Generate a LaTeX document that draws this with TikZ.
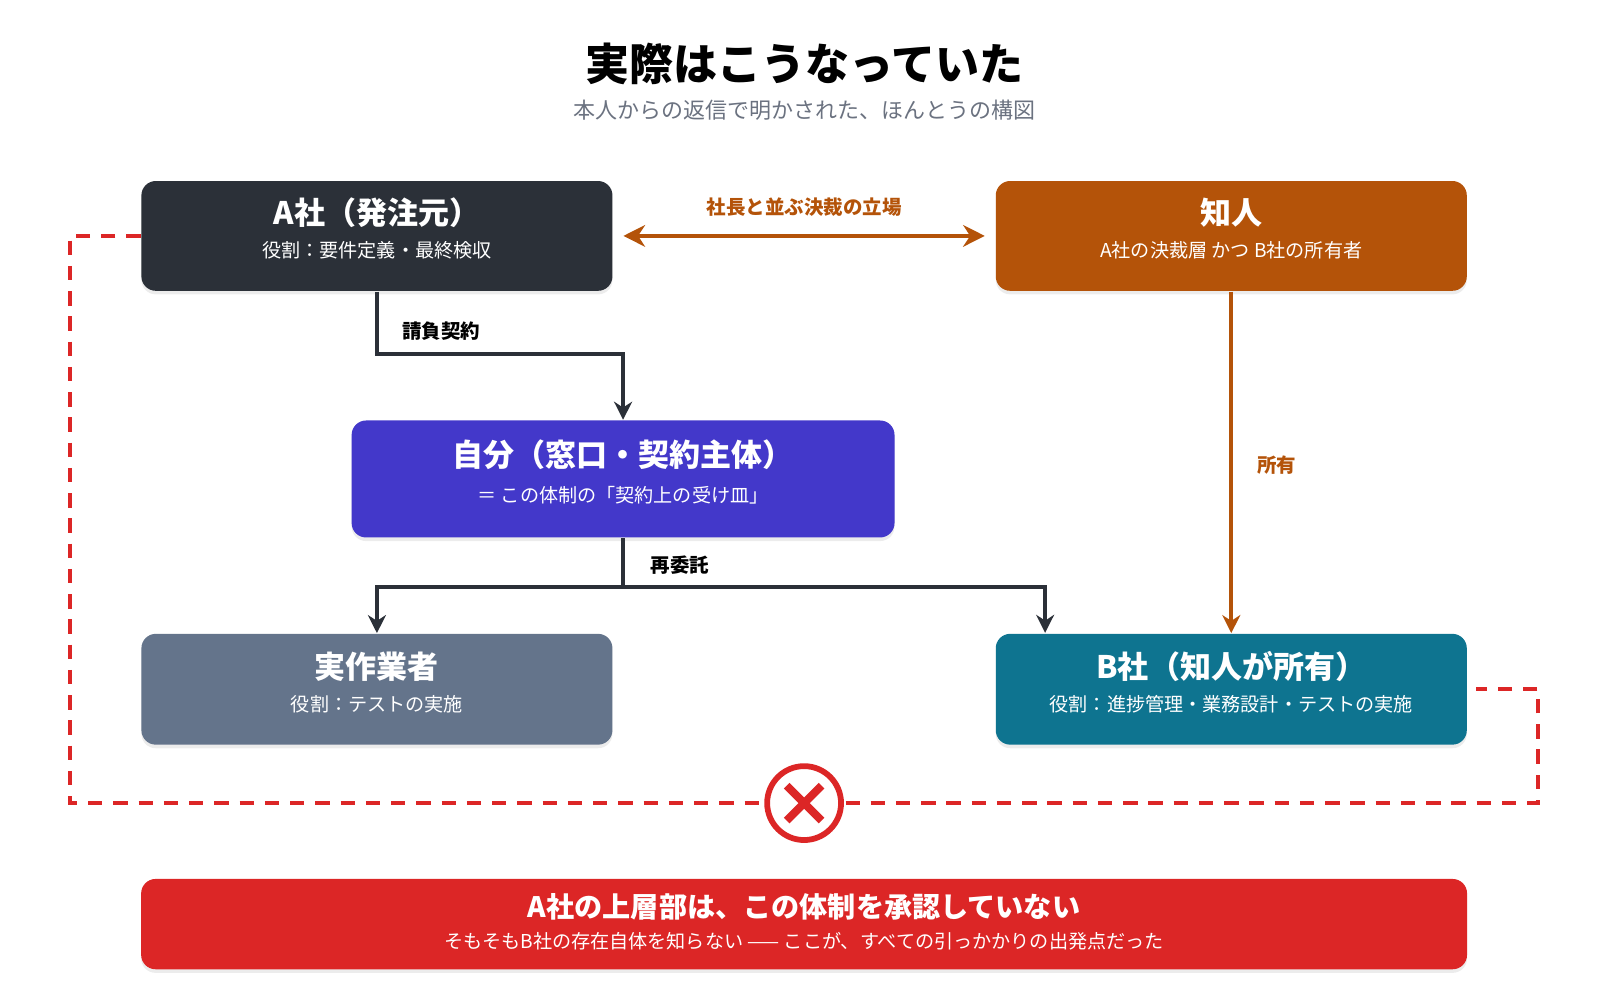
\documentclass[tikz,border=0pt]{standalone}
\usepackage{fontspec}
\setmainfont{Noto Sans CJK JP}
\usetikzlibrary{positioning,arrows.meta,shadows}
\definecolor{darkbox}{HTML}{2B3038}
\definecolor{orangebox}{HTML}{B45309}
\definecolor{indigobox}{HTML}{4338CA}
\definecolor{slatebox}{HTML}{64748B}
\definecolor{tealbox}{HTML}{0E7490}
\definecolor{redbox}{HTML}{DC2626}
\definecolor{subgray}{HTML}{6B7280}
\definecolor{linegray}{HTML}{2B3038}
\tikzset{
  box/.style={rounded corners=4pt,minimum height=1.07cm,text width=4.59cm,
    align=center,text=white,inner sep=0pt,drop shadow={opacity=0.15,shadow xshift=0pt,shadow yshift=-1pt}},
  ttl/.style={font=\fontsize{8.6}{10}\selectfont\bfseries},
  sub/.style={font=\fontsize{5.3}{7}\selectfont},
  lbl/.style={font=\fontsize{5.4}{7}\selectfont\bfseries},
  conn/.style={line width=1.1pt,linegray,-{Stealth[length=5pt,width=5pt]}},
  own/.style={line width=1.1pt,orangebox},
}
\begin{document}
\begin{tikzpicture}[x=0.01cm,y=-0.01cm]
\useasboundingbox (0,0) rectangle (1560,975);
% title
\node (title) at (784,62) {\fontsize{12.2}{14}\selectfont\bfseries 実際はこうなっていた};
\node[text=subgray] (subtitle) at (784,107) {\fontsize{6.1}{7}\selectfont 本人からの返信で明かされた、ほんとうの構図};

% boxes
\node[box,fill=darkbox] (acorp) at (367.5,230) {};
\node[ttl,text=white] at (367.5,207) {A社（発注元）};
\node[sub,text=white] at (367.5,244) {役割：要件定義・最終検収};

\node[box,fill=orangebox] (friend) at (1200.5,230) {};
\node[ttl,text=white] at (1200.5,207) {知人};
\node[sub,text=white] at (1200.5,244) {A社の決裁層 かつ B社の所有者};

\node[box,fill=indigobox,text width=5.29cm,minimum height=1.14cm] (me) at (607.5,467) {};
\node[ttl,text=white] at (607.5,443) {自分（窓口・契約主体）};
\node[sub,text=white] at (607.5,483) {＝ この体制の「契約上の受け皿」};

\node[box,fill=slatebox,minimum height=1.08cm] (worker) at (367.5,672) {};
\node[ttl,text=white] at (367.5,650) {実作業者};
\node[sub,text=white] at (367.5,687) {役割：テストの実施};

\node[box,fill=tealbox,minimum height=1.08cm] (bcorp) at (1200.5,672) {};
\node[ttl,text=white] at (1200.5,650) {B社（知人が所有）};
\node[sub,text=white] at (1200.5,687) {役割：進捗管理・業務設計・テストの実施};

% connectors
\draw[own,{Stealth[length=6pt,width=6pt]}-{Stealth[length=6pt,width=6pt]}] ([xshift=0.1cm]acorp.east) -- ([xshift=-0.1cm]friend.west);
\node[lbl,text=orangebox] (rank) at (784,202) {社長と並ぶ決裁の立場};

\draw[conn] (acorp.south) -- (367.5,345) -- (607.5,345) -- (me.north);
\node[lbl] (ukeoi) at (430,323) {請負契約};

\draw[conn] (me.south) -- (607.5,572) -- (367.5,572) -- (worker.north);
\draw[conn] (607.5,572) -- (1019,572) -- (1019,617);
\node[lbl] (itaku) at (663,551) {再委託};

\draw[own,-{Stealth[length=5pt,width=5pt]}] (friend.south) -- (bcorp.north);
\node[lbl,text=orangebox] (shoyu) at (1245,453) {所有};

% unapproved link
\coordinate (gapL) at (68,783);
\coordinate (gapR) at (1500,783);
\draw[redbox,line width=1.1pt,dash pattern=on 4pt off 3pt]
  (acorp.west) -- (68,230) -- (gapL) -- (gapR) -- (1500,672) -- ([xshift=0.08cm]bcorp.east);
\node[circle,draw=redbox,fill=white,line width=1.6pt,minimum size=0.72cm] (cross) at (784,783) {};
\draw[redbox,line width=2.2pt] ([shift={(-17,-17)}]cross.center) -- ([shift={(17,17)}]cross.center)
  ([shift={(-17,17)}]cross.center) -- ([shift={(17,-17)}]cross.center);

% conclusion
\node[box,fill=redbox,text width=12.92cm,minimum height=0.88cm] (note) at (784,901) {};
\node[ttl,text=white,font=\fontsize{7.8}{9}\selectfont\bfseries] at (784,884) {A社の上層部は、この体制を承認していない};
\node[sub,text=white] at (784,918) {そもそもB社の存在自体を知らない —— ここが、すべての引っかかりの出発点だった};
\end{tikzpicture}
\end{document}
